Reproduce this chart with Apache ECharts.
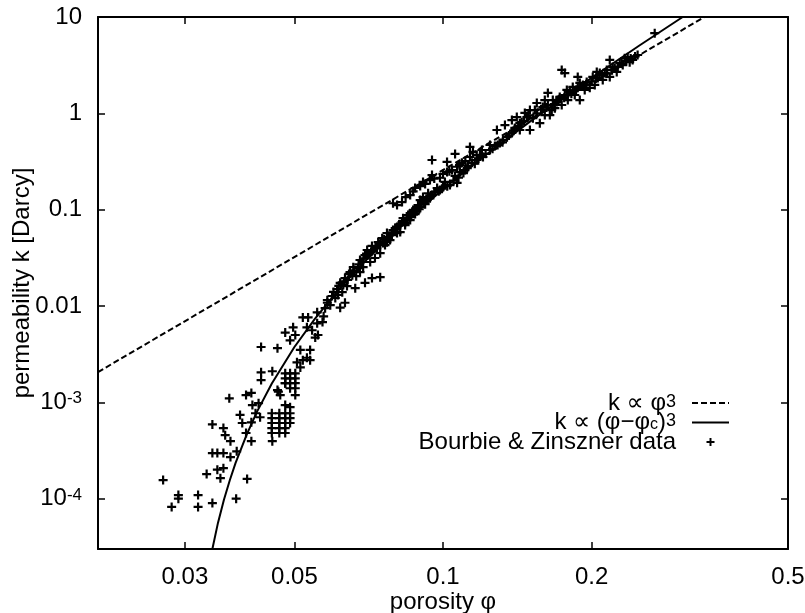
<!DOCTYPE html>
<html><head><meta charset="utf-8">
<script src="https://cdn.jsdelivr.net/npm/echarts@6/dist/echarts.min.js"></script>
<style>html,body{margin:0;padding:0;background:#fff}#c{width:805px;height:613px}</style>
</head><body><div id="c"></div>
<script>
// ---------- data ----------
const xRange = [0.02, 0.5];
const yRange = [3e-5, 10];
const xTicks = [0.03, 0.05, 0.1, 0.2, 0.5];
const xTickLabels = ['0.03', '0.05', '0.1', '0.2', '0.5'];
const yTicks = [1e-4, 1e-3, 0.01, 0.1, 1, 10];
const yTickLabels = ['10^-4', '10^-3', '0.01', '0.1', '1', '10'];
const seriesNames = ['k ∝ φ^3', 'k ∝ (φ−φ_c)^3', 'Bourbie & Zinszner data'];
const xTitle = 'porosity φ';
const yTitle = 'permeability k [Darcy]';

// k ∝ φ^3 (straight line on log-log): end points
const cubicPhi = [0.02, 0.3386];
const cubicK = [0.00206, 10];

// k ∝ (φ−φc)^3 curve
const percPhi = [0.0341, 0.035, 0.036, 0.037, 0.038, 0.040, 0.042, 0.045, 0.050, 0.055, 0.060, 0.065, 0.070, 0.080, 0.090, 0.100, 0.120, 0.150, 0.200, 0.250, 0.300, 0.306];
const percK = [3.0e-5, 5.6e-5, 9.8e-5, 1.56e-4, 2.35e-4, 4.6e-4, 8.0e-4, 1.57e-3, 3.75e-3, 7.35e-3, 0.0127, 0.0202, 0.0302, 0.0592, 0.1023, 0.163, 0.346, 0.82, 2.33, 5.06, 9.36, 10];

// Bourbie & Zinszner data points [porosity, permeability]
const bzPoints = [
[0.0271,1.56e-4],[0.0282,8.2e-5],[0.0291,1.09e-4],[0.0291,1.0e-4],[0.0319,1.09e-4],[0.0319,8.2e-5],[0.0341,9.0e-5],[0.0381,1.0e-4],[0.0401,1.6e-4],[0.0332,1.8e-4],[0.0349,2.0e-4],[0.0354,1.63e-4],[0.0359,2.07e-4],[0.0341,2.97e-4],[0.0349,2.97e-4],[0.0359,2.97e-4],[0.0371,2.7e-4],[0.0382,3.1e-4],[0.0341,5.9e-4],[0.0359,5.4e-4],[0.0362,4.56e-4],[0.0371,3.95e-4],[0.0369,1.1e-3],[0.0388,7.4e-4],[0.0392,6.1e-4],[0.0399,4.8e-4],[0.0409,3.95e-4],[0.0399,1.19e-3],[0.0409,1.25e-3],[0.0411,9.35e-4],[0.0423,9.8e-4],[0.0417,7.7e-4],[0.0426,7.0e-4],[0.0409,6.2e-4],[0.0451,3.95e-4],
[0.0450,7.7e-4],[0.0466,7.7e-4],[0.0479,7.7e-4],[0.0490,7.7e-4],[0.0450,6.85e-4],[0.0466,6.85e-4],[0.0479,6.85e-4],[0.0490,6.85e-4],[0.0450,6.1e-4],[0.0466,6.1e-4],[0.0479,6.1e-4],[0.0490,6.1e-4],[0.0450,5.4e-4],[0.0466,5.4e-4],[0.0479,5.4e-4],[0.0450,4.8e-4],[0.0466,4.8e-4],[0.0479,4.8e-4],
[0.0462,1.34e-3],[0.0479,9.35e-4],[0.0479,1.58e-3],[0.0490,8.9e-4],
[0.0428,3.75e-3],[0.0462,3.65e-3],[0.0428,2.05e-3],[0.0428,1.70e-3],[0.0451,2.1e-3],[0.0464,1.29e-3],[0.0468,1.19e-3],[0.0502,1.19e-3],
[0.0479,2.0e-3],[0.0490,2.0e-3],[0.0502,2.0e-3],[0.0479,1.77e-3],[0.0490,1.77e-3],[0.0502,1.77e-3],[0.0479,1.58e-3],[0.0490,1.58e-3],[0.0502,1.58e-3],[0.0490,1.4e-3],[0.0502,1.4e-3],
[0.0479,5.3e-3],[0.0490,4.4e-3],[0.0497,6.0e-3],[0.0502,5.0e-3],[0.0514,3.5e-3],[0.0520,7.6e-3],[0.0533,7.6e-3],[0.0530,6.0e-3],[0.0543,5.6e-3],[0.0551,4.7e-3],[0.0558,5.0e-3],[0.0538,3.5e-3],[0.0506,2.6e-3],[0.0514,2.3e-3],[0.0520,2.74e-3],[0.0530,2.9e-3],[0.0538,2.74e-3],[0.0577,9.5e-3],[0.0573,7.8e-3],[0.0556,6.6e-3],[0.0583,1.15e-2],[0.0570,6.8e-3],[0.0556,8.6e-3],
[0.0583,0.0108],[0.0596,0.0127],[0.0610,0.0150],[0.0619,0.0174],[0.0633,0.0195],[0.0625,0.0139],[0.0639,0.0161],[0.0648,0.0225],[0.0658,0.0253],[0.0667,0.0204],[0.0679,0.0300],[0.0689,0.0253],[0.0695,0.0338],[0.0702,0.0381],[0.0712,0.0286],[0.0718,0.0420],[0.0728,0.0315],[0.0739,0.0460],[0.0746,0.0353],[0.0753,0.0506],[0.0763,0.0429],[0.0770,0.0571],[0.0781,0.0483],[0.0792,0.0614],[0.0807,0.0660],[0.0819,0.0585],[0.0826,0.0742],[0.0838,0.0692],[0.0850,0.0879],[0.0858,0.0780],[0.0870,0.0990],[0.0878,0.0900],[0.0890,0.1116],[0.0899,0.1258],[0.0911,0.1350],[0.0920,0.1140],[0.0933,0.1480],[0.0941,0.1310],
[0.0695,0.0174],[0.0718,0.0195],[0.0746,0.0199],[0.0664,0.0153],[0.0633,0.0108],[0.0619,0.0096],[0.0679,0.0225],[0.0807,0.0571],[0.0770,0.0460],[0.0858,0.0835],[0.0878,0.0990],[0.0838,0.0730],
[0.0591,0.0102],[0.0605,0.0121],[0.0613,0.0130],[0.0628,0.0165],[0.0641,0.0186],[0.0655,0.0209],[0.0673,0.0247],[0.0686,0.0286],[0.0705,0.0338],[0.0721,0.0381],[0.0735,0.0399],[0.0756,0.0450],[0.0788,0.0545],[0.0800,0.0645],[0.0830,0.0815],[0.0866,0.0950],
[0.0600,0.0140],[0.0615,0.0162],[0.0630,0.0180],[0.0645,0.0215],[0.0660,0.0235],[0.0675,0.0270],[0.0690,0.0310],[0.0700,0.0350],[0.0715,0.0365],[0.0730,0.0410],[0.0745,0.0440],[0.0760,0.0490],[0.0775,0.0520],[0.0790,0.0580],[0.0805,0.0620],[0.0815,0.0700],[0.0835,0.0760],[0.0845,0.0820],[0.0862,0.0870],[0.0885,0.0960],[0.0895,0.1010],[0.0905,0.1200],[0.0925,0.1300],[0.0945,0.1400],[0.0960,0.1500],[0.0980,0.1550],[0.0995,0.1650],
[0.0819,0.0692],[0.0858,0.0920],[0.0899,0.1063],[0.0929,0.1258],[0.0950,0.1418],[0.0986,0.1598],[0.1000,0.1716],[0.1033,0.1801],[0.1068,0.1898],[0.1108,0.2578],[0.1145,0.306],[0.1172,0.3275],[0.1205,0.352],[0.1245,0.416],[0.1304,0.492],[0.1348,0.566],[0.1379,0.625],[0.1431,0.79],[0.1479,0.915],[0.0963,0.153],[0.1009,0.194],[0.1058,0.2243],[0.1082,0.246],[0.1124,0.285],[0.1188,0.369],[0.1274,0.457],[0.1323,0.528],[0.1398,0.705],[0.1444,0.81],[0.0973,0.1678],
[0.1020,0.1750],[0.1050,0.2000],[0.1075,0.2150],[0.1100,0.2400],[0.1120,0.2700],[0.1160,0.3000],[0.1180,0.3400],[0.1220,0.3800],[0.1260,0.4300],[0.1290,0.4700],[0.1320,0.5000],[0.1360,0.5900],[0.1390,0.6600],[0.1420,0.7400],[0.1460,0.8300],[0.1490,0.9500],
[0.0792,0.1165],[0.0807,0.1116],[0.0826,0.120],[0.0858,0.1418],[0.0878,0.1678],[0.0899,0.1758],[0.0911,0.194],[0.0941,0.2030],[0.0950,0.2288],[0.0986,0.2145],[0.1019,0.246],[0.1043,0.2578],[0.1068,0.279],[0.1092,0.306],[0.1134,0.352],[0.1150,0.397],[0.1199,0.416],[0.1245,0.469],[0.1286,0.671],[0.1335,0.756],[0.1379,0.852],[0.1411,0.915],
[0.0840,0.1350],[0.0870,0.1550],[0.0920,0.1850],[0.0960,0.2100],[0.1000,0.2350],[0.1030,0.2500],[0.1080,0.2900],[0.1110,0.3200],[0.1170,0.3700],
[0.0950,0.3275],[0.1019,0.313],[0.1058,0.379],[0.1134,0.448],
[0.1431,0.671],[0.1465,1.01],[0.1500,0.671],[0.1500,1.08],[0.1549,1.28],[0.1571,0.79],[0.1593,1.16],[0.1608,0.96],[0.1646,0.96],[0.1669,1.374],[0.1685,1.13],[0.1724,1.48],[0.1740,1.22],[0.1782,1.75],[0.1790,1.374],[0.1832,1.88],[0.1849,1.55],[0.1893,2.07],[0.1893,1.374],[0.1937,1.75],[0.1955,2.11],[0.1983,1.84],[0.2011,2.39],[0.2030,1.97],[0.2078,2.62],[0.2107,2.22],[0.2147,2.82],[0.2177,2.39],[0.2207,3.02],[0.2249,2.69],[0.2281,3.32],[0.2334,3.73],[0.2367,3.83],[0.2422,3.58],[0.2479,4.03],[0.2313,3.17],
[0.1550,1.00],[0.1580,1.10],[0.1620,1.15],[0.1680,1.25],[0.1720,1.40],[0.1760,1.45],[0.1820,1.60],[0.1860,1.75],[0.1900,1.90],[0.1950,2.00],[0.2000,2.15],[0.2040,2.30],[0.2100,2.50],[0.2150,2.60],[0.2200,2.80],[0.2260,3.05],[0.2300,3.30],[0.2350,3.50],[0.2400,3.70],[0.2450,3.90],
[0.1631,1.63],[0.1740,2.82],[0.1765,2.62],[0.1875,2.39],[0.2049,2.69],[0.2177,3.58],[0.2685,6.80],
[0.1535,1.08],[0.1631,1.22],[0.1708,1.374],[0.1765,1.55],[0.1807,1.67],[0.1875,1.84],[0.1920,1.97],[0.2059,2.33],[0.2127,2.62],[0.2228,2.95],[0.2389,3.40],[0.1608,1.374],[0.1661,1.08],[0.1521,0.89],[0.1700,1.31]
];

// ---------- chart ----------
const FONT = "'Liberation Sans', Arial, Helvetica, 'DejaVu Sans', sans-serif";
const PLUS = 'path://M3.4,0H5.6V3.4H9V5.6H5.6V9H3.4V5.6H0V3.4H3.4Z';
const BLACK = '#000';
const FS = 24;

function toRich(s) {
  return s.replace(/_(\w)/, '{sub|$1}').replace(/\^(\S+)/, '{sup|$1}');
}

const xLogMin = Math.log10(xRange[0]);
const xLogMax = Math.log10(xRange[1]);
const xTickPos = xTicks.map(Math.log10);

function xLabel(v) {
  const i = xTickPos.findIndex(p => Math.abs(p - v) < 1e-6);
  return i < 0 ? '' : xTickLabels[i];
}
function yLabel(v) {
  const e = Math.log10(v);
  const i = yTicks.findIndex(t => Math.abs(Math.log10(t) - e) < 1e-6);
  return i < 0 ? '' : toRich(yTickLabels[i]);
}

const axisLineStyle = { show: true, lineStyle: { color: BLACK, width: 2 } };
const tickStyle = { color: BLACK, width: 1.5 };
const gridBox = { left: 98, right: 17, top: 17, bottom: 64, containLabel: false, outerBoundsMode: 'none' };

const chart = echarts.init(document.getElementById('c'), null, { renderer: 'canvas' });
chart.setOption({
  animation: false,
  backgroundColor: '#fff',
  grid: [Object.assign({}, gridBox), Object.assign({}, gridBox)],
  xAxis: [
    { type: 'log', gridIndex: 0, min: xRange[0], max: xRange[1], show: false },
    {
      type: 'value', gridIndex: 1, position: 'bottom', min: xLogMin, max: xLogMax,
      axisLine: axisLineStyle,
      axisTick: { show: true, inside: true, length: 7, customValues: xTickPos, lineStyle: tickStyle },
      axisLabel: { customValues: xTickPos, formatter: xLabel, margin: 16, fontSize: FS, color: BLACK, fontFamily: FONT },
      splitLine: { show: false },
      name: xTitle, nameLocation: 'middle', nameGap: 41, nameMoveOverlap: false,
      nameTextStyle: { fontSize: FS, color: BLACK, fontFamily: FONT }
    },
    {
      type: 'value', gridIndex: 1, position: 'top', min: xLogMin, max: xLogMax,
      axisLine: axisLineStyle,
      axisTick: { show: true, inside: true, length: 7, customValues: xTickPos, lineStyle: tickStyle },
      axisLabel: { show: false },
      splitLine: { show: false }
    }
  ],
  yAxis: [
    {
      type: 'log', gridIndex: 0, position: 'left', min: yRange[0], max: yRange[1], logBase: 10,
      axisLine: axisLineStyle,
      axisTick: { show: true, inside: true, length: 7, lineStyle: tickStyle },
      axisLabel: {
        formatter: yLabel, margin: 16, fontSize: FS, lineHeight: 24, color: BLACK, fontFamily: FONT,
        rich: { sup: { fontSize: 17, lineHeight: 6, verticalAlign: 'top', fontFamily: FONT, color: BLACK } }
      },
      splitLine: { show: false },
      minorTick: { show: false },
      name: yTitle, nameLocation: 'middle', nameGap: 64, nameRotate: 90, nameMoveOverlap: false,
      nameTextStyle: { fontSize: FS, color: BLACK, fontFamily: FONT }
    },
    {
      type: 'log', gridIndex: 0, position: 'right', min: yRange[0], max: yRange[1], logBase: 10,
      axisLine: axisLineStyle,
      axisTick: { show: true, inside: true, length: 7, lineStyle: tickStyle },
      axisLabel: { show: false },
      splitLine: { show: false }
    },
    { type: 'value', gridIndex: 1, min: 0, max: 1, show: false }
  ],
  legend: {
    orient: 'vertical', align: 'right', right: 75, top: 391, padding: 0, itemGap: -4.5,
    itemWidth: 37, itemHeight: 8, selectedMode: false,
    data: [
      { name: seriesNames[0], itemStyle: { opacity: 0 } },
      { name: seriesNames[1], itemStyle: { opacity: 0 } },
      { name: seriesNames[2], icon: PLUS }
    ],
    formatter: n => toRich(n),
    textStyle: {
      fontSize: FS, lineHeight: 20, color: BLACK, fontFamily: FONT, padding: [0, 11, 0, 0],
      rich: {
        sup: { fontSize: 18, lineHeight: 2, verticalAlign: 'top', fontFamily: FONT, color: BLACK },
        sub: { fontSize: 16, lineHeight: 8, verticalAlign: 'bottom', fontFamily: FONT, color: BLACK }
      }
    }
  },
  series: [
    {
      name: seriesNames[0], type: 'line', xAxisIndex: 0, yAxisIndex: 0,
      data: cubicPhi.map((x, i) => [x, cubicK[i]]),
      symbol: 'none', showSymbol: false, silent: true, z: 2,
      lineStyle: { color: BLACK, width: 2, type: [6, 3] }, itemStyle: { color: BLACK }
    },
    {
      name: seriesNames[1], type: 'line', xAxisIndex: 0, yAxisIndex: 0,
      data: percPhi.map((x, i) => [x, percK[i]]),
      symbol: 'none', showSymbol: false, silent: true, z: 2,
      lineStyle: { color: BLACK, width: 2 }, itemStyle: { color: BLACK }
    },
    {
      name: seriesNames[2], type: 'scatter', xAxisIndex: 0, yAxisIndex: 0,
      data: bzPoints, symbol: PLUS, symbolSize: 9, symbolKeepAspect: true, silent: true, z: 3,
      itemStyle: { color: BLACK, opacity: 1 }
    }
  ]
});
</script>
</body></html>
